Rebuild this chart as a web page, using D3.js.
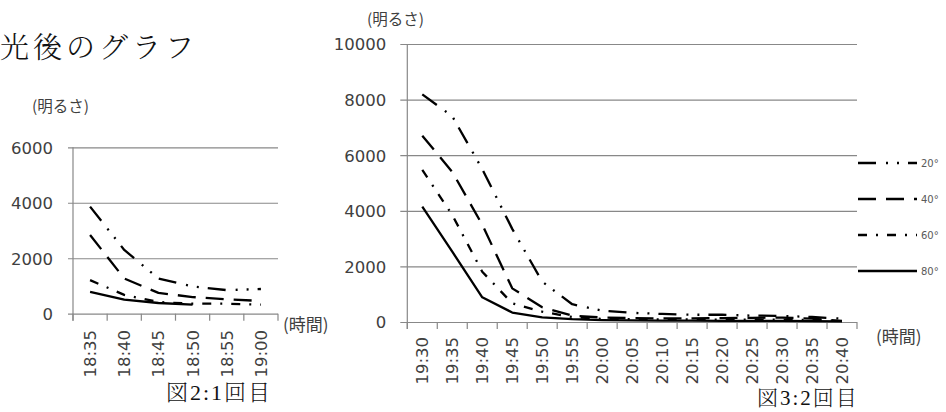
<!DOCTYPE html>
<html>
<head>
<meta charset="utf-8">
<script src="https://cdn.jsdelivr.net/npm/d3@7"></script>
<style>
  body { margin: 0; background: #fff; }
  svg { display: block; }
</style>
</head>
<body>
<svg id="c" width="946" height="412"></svg>
<script>
// ---- data ----
const seriesNames = ["20°", "40°", "60°", "80°"];

// run 1 (図2)
const times1 = ["18:35", "18:40", "18:45", "18:50", "18:55", "19:00"];
const run1_20 = [3860, 2300, 1270, 980, 850, 890];
const run1_40 = [2840, 1270, 750, 600, 520, 460];
const run1_60 = [1210, 680, 420, 360, 360, 325];
const run1_80 = [790, 506, 386, 325, null, null];
const yTicks1 = [0, 2000, 4000, 6000];

// run 2 (図3)
const times2 = ["19:30", "19:35", "19:40", "19:45", "19:50", "19:55", "20:00", "20:05",
                "20:10", "20:15", "20:20", "20:25", "20:30", "20:35", "20:40"];
const run2_20 = [8190, 7400, 5500, 3350, 1450, 640, 410, 330, 290, 260, 260, 230, 220, 180, 120];
const run2_40 = [6700, 5400, 3500, 1210, 530, 230, 160, 140, 130, 130, 140, 150, 160, 120, 40];
const run2_60 = [5470, 3850, 1810, 670, 370, 180, 110, 100, 90, 90, 80, 90, 80, 70, 30];
const run2_80 = [4150, 2530, 890, 340, 170, 100, 70, 60, 50, 50, 40, 40, 40, 30, 20];
const yTicks2 = [0, 2000, 4000, 6000, 8000, 10000];

// ---- styles ----
const GRID = "#888888";
const TEXT = "#404040";
const NUM_FONT = "DejaVu Sans, Verdana, sans-serif";
const JP_FONT = "'Noto Sans CJK JP', sans-serif";
const SERIF_FONT = "'Liberation Serif', 'Noto Serif CJK JP', 'Noto Sans CJK JP', serif";
const dashBy = { "20°": "18,10,2,9,2,9", "40°": "18,10", "60°": "9,9,2,9", "80°": null };

const svg = d3.select("#c");

function drawChart(o) {
  const g = svg.append("g");
  const x = d3.scaleBand().domain(o.cats).range([o.left, o.right]).padding(0);
  const y = d3.scaleLinear().domain([0, o.max]).range([o.bottom, o.top]);
  const bw = x.bandwidth();

  // horizontal gridlines (reach a little left of the axis as tick marks)
  g.append("g")
    .attr("transform", `translate(${o.left - o.yTick},0)`)
    .call(d3.axisRight(y).tickValues(o.yTicks).tickSize(o.right - o.left + o.yTick).tickFormat(""))
    .call(s => s.select(".domain").remove())
    .call(s => s.selectAll("line").attr("stroke", GRID).attr("stroke-width", 1.2));

  // value labels
  g.append("g")
    .attr("transform", `translate(${o.left},0)`)
    .call(d3.axisLeft(y).tickValues(o.yTicks).tickSize(0).tickPadding(o.pad).tickFormat(d3.format("d")))
    .call(s => s.select(".domain").remove())
    .attr("font-family", NUM_FONT)
    .attr("font-size", 16.5)
    .call(s => s.selectAll("text").attr("fill", TEXT).attr("dy", "0.36em"));

  // vertical axis line
  g.append("line")
    .attr("x1", o.left).attr("x2", o.left)
    .attr("y1", y(o.max)).attr("y2", y(0) + o.xTick)
    .attr("stroke", GRID).attr("stroke-width", 1.2);

  // category tick marks at band edges
  const edges = o.cats.map(c => x(c)).concat([x.range()[1]]);
  g.append("g").selectAll("line").data(edges).join("line")
    .attr("x1", d => d).attr("x2", d => d)
    .attr("y1", y(0)).attr("y2", y(0) + o.xTick)
    .attr("stroke", GRID).attr("stroke-width", 1.2);

  // rotated time labels
  g.append("g").selectAll("text").data(o.cats).join("text")
    .attr("transform", d => `translate(${x(d) + bw / 2},${o.labelTop}) rotate(-90)`)
    .attr("text-anchor", "end")
    .attr("dy", "0.36em")
    .attr("font-family", NUM_FONT)
    .attr("font-size", 16.5)
    .attr("fill", TEXT)
    .text(d => d);

  // series lines
  const line = d3.line()
    .defined(d => d != null)
    .x((d, i) => x(o.cats[i]) + bw / 2)
    .y(d => y(d));
  o.series.forEach((vals, k) => {
    g.append("path")
      .datum(vals)
      .attr("d", line)
      .attr("fill", "none")
      .attr("stroke", "#000")
      .attr("stroke-width", 2.3)
      .attr("stroke-linejoin", "round")
      .attr("stroke-dasharray", dashBy[seriesNames[k]]);
  });

  // axis titles
  g.append("text")
    .attr("x", o.yTitle[0]).attr("y", o.yTitle[1])
    .attr("font-family", JP_FONT).attr("font-size", 15.5).attr("fill", TEXT)
    .attr("dominant-baseline", "central")
    .text("(明るさ)");
  g.append("text")
    .attr("x", o.xTitle[0]).attr("y", o.xTitle[1])
    .attr("font-family", JP_FONT).attr("font-size", 17).attr("fill", TEXT)
    .attr("dominant-baseline", "central")
    .text("(時間)");

  return { x, y, g };
}

// heading
svg.append("text")
  .attr("x", 0).attr("y", 58)
  .attr("font-family", SERIF_FONT).attr("font-weight", 300)
  .attr("font-size", 29).attr("letter-spacing", 4).attr("fill", "#111")
  .text("光後のグラフ");

// run 1
drawChart({
  cats: times1,
  series: [run1_20, run1_40, run1_60, run1_80],
  left: 73, right: 278, top: 147.3, bottom: 313.7,
  max: 6000, yTicks: yTicks1, yTick: 5, xTick: 7, pad: 20,
  labelTop: 330,
  yTitle: [32, 105], xTitle: [283, 323]
});

// run 2
drawChart({
  cats: times2,
  series: [run2_20, run2_40, run2_60, run2_80],
  left: 407.3, right: 857, top: 44, bottom: 322,
  max: 10000, yTicks: yTicks2, yTick: 7, xTick: 7, pad: 21,
  labelTop: 337,
  yTitle: [367, 18], xTitle: [876, 335]
});

// legend for run 2
const legendY = d3.scalePoint().domain(seriesNames).range([163, 271]);
const lg = svg.append("g");
seriesNames.forEach(name => {
  const yy = legendY(name);
  lg.append("line")
    .attr("x1", 858).attr("x2", 917).attr("y1", yy).attr("y2", yy)
    .attr("stroke", "#000").attr("stroke-width", 2.3)
    .attr("stroke-dasharray", dashBy[name]);
  lg.append("text")
    .attr("x", 921).attr("y", yy).attr("dy", "0.36em")
    .attr("font-family", NUM_FONT).attr("font-size", 10).attr("fill", "#595959")
    .text(name);
});

// captions
svg.append("text")
  .attr("x", 166).attr("y", 400)
  .attr("font-family", SERIF_FONT).attr("font-weight", 300)
  .attr("font-size", 22).attr("letter-spacing", 2).attr("fill", "#111")
  .text("図2:1回目");
svg.append("text")
  .attr("x", 757).attr("y", 405)
  .attr("font-family", SERIF_FONT).attr("font-weight", 300)
  .attr("font-size", 21).attr("letter-spacing", 2).attr("fill", "#111")
  .text("図3:2回目");
</script>
</body>
</html>
